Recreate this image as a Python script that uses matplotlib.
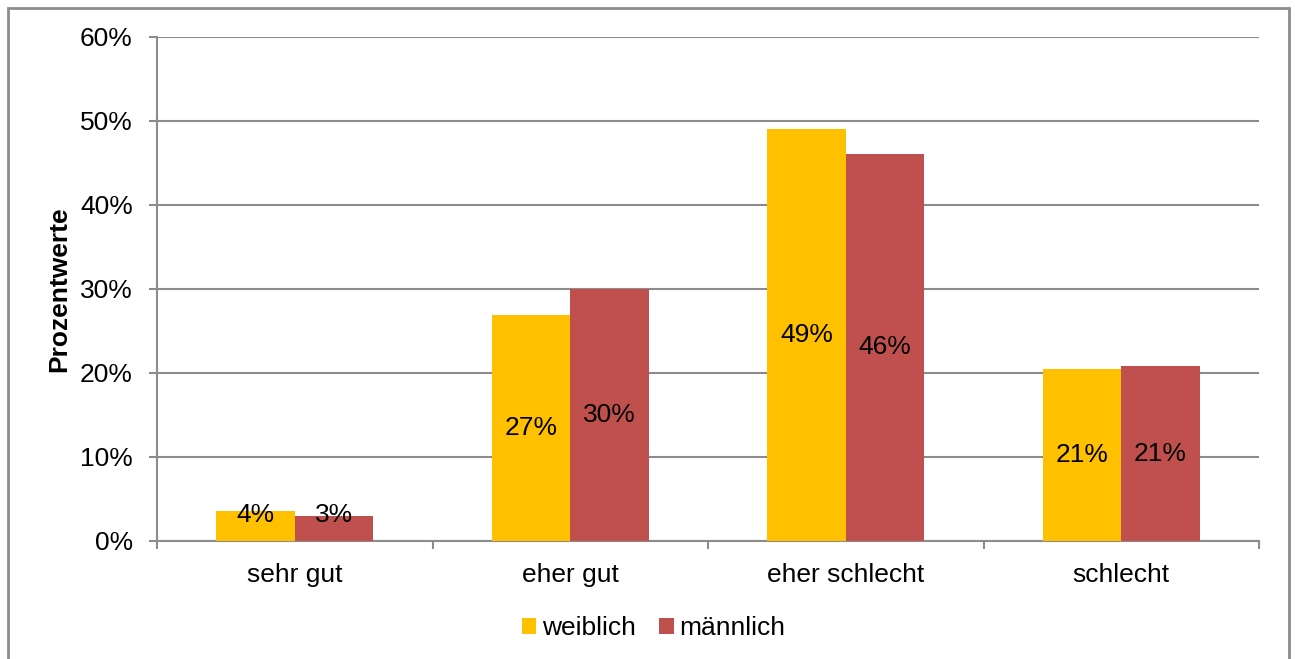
import matplotlib
matplotlib.use("Agg")
import matplotlib.pyplot as plt
import numpy as np
from matplotlib.patches import Rectangle
from matplotlib.ticker import FuncFormatter

categories = ["sehr gut", "eher gut", "eher schlecht", "schlecht"]
weiblich = [3.6, 26.9, 49.0, 20.5]
maennlich = [3.0, 30.0, 46.1, 20.8]
labels_w = ["4%", "27%", "49%", "21%"]
labels_m = ["3%", "30%", "46%", "21%"]
series_names = ["weiblich", "männlich"]
colors = ["#FFC000", "#C0504D"]

plt.rcParams['font.family'] = ['Liberation Sans', 'DejaVu Sans']

fig = plt.figure(figsize=(12.95, 6.59), dpi=100)
ax = fig.add_axes([157/1295, 1-541/659, (1259-157)/1295, (541-37)/659])

# outer border
fig.patches.append(Rectangle((8/1295, -0.1), (1289-8)/1295, 1.1 - 8/659,
                             transform=fig.transFigure, fill=False,
                             edgecolor="#8c8c8c", linewidth=2))

x = np.arange(len(categories))
w = 0.285
b1 = ax.bar(x - w/2, weiblich, w, color=colors[0], label=series_names[0], zorder=3)
b2 = ax.bar(x + w/2, maennlich, w, color=colors[1], label=series_names[1], zorder=3)

fs = 19
for bars, labs in ((b1, labels_w), (b2, labels_m)):
    for rect, lab in zip(bars, labs):
        h = rect.get_height()
        yc = max(h / 2, 3.1)
        ax.text(rect.get_x() + rect.get_width()/2, yc, lab, ha="center", va="center",
                fontsize=fs, color="black", zorder=4)

ax.set_xlim(-0.5, 3.5)
ax.set_ylim(0, 60)
ax.set_yticks(np.arange(0, 61, 10))
ax.yaxis.set_major_formatter(FuncFormatter(lambda v, p: f"{int(v)}%"))
ax.set_xticks(x)
ax.set_xticklabels(categories)
ax.set_xticks(np.arange(-0.5, 3.6, 1), minor=True)
ax.tick_params(axis="x", which="major", length=0, labelsize=fs, pad=16)
ax.tick_params(axis="x", which="minor", length=5.5, width=1.5, color="#8c8c8c", direction="out")
ax.tick_params(axis="y", length=5.5, width=1.5, color="#8c8c8c", labelsize=fs, pad=12)

ax.grid(axis="y", color="#8c8c8c", linewidth=1.5, zorder=0)
for s in ["top", "right"]:
    ax.spines[s].set_visible(False)
for s in ["left", "bottom"]:
    ax.spines[s].set_color("#8c8c8c")
    ax.spines[s].set_linewidth(1.5)

ax.set_ylabel("Prozentwerte", fontsize=19, fontweight="bold", labelpad=6)

leg = fig.legend(handles=[b1, b2], labels=series_names, loc="center",
                 bbox_to_anchor=(0.5 + 6/1295, 1-628/659), ncol=2, frameon=False,
                 fontsize=fs, handlelength=0.55, handleheight=0.55,
                 handletextpad=0.2, columnspacing=0.9)

fig.savefig("out.png", dpi=100)
